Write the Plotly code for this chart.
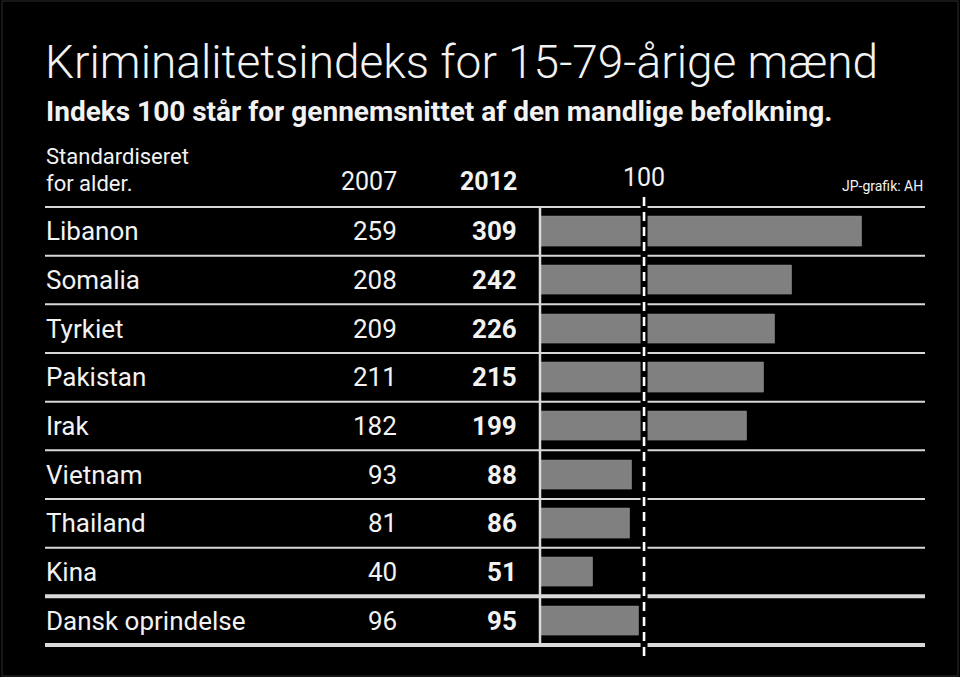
import plotly.graph_objects as go

# ---- data ----
countries = ["Libanon", "Somalia", "Tyrkiet", "Pakistan", "Irak",
             "Vietnam", "Thailand", "Kina", "Dansk oprindelse"]
index_2007 = [259, 208, 209, 211, 182, 93, 81, 40, 96]
index_2012 = [309, 242, 226, 215, 199, 88, 86, 51, 95]
reference_value = 100
year_labels = ["2007", "2012"]
title_text = "Kriminalitetsindeks for 15-79-årige mænd"
subtitle_text = "Indeks 100 står for gennemsnittet af den mandlige befolkning."
note_lines = ["Standardiseret", "for alder."]
credit_text = "JP-grafik: AH"

W, H = 960, 677
FONT = "Roboto, 'Open Sans', sans-serif"
WHITE = "#f2f2f2"
LINE = "#d9d9d9"


def px(x):
    return x / W


def py(y):
    return 1 - y / H


rows = list(range(len(countries)))
n = len(countries)

# geometry of the plotting frame (pixels)
X0_PX, SCALE = 540.0, 1.0405          # pixel of value 0, pixels per unit
X_MIN, X_MAX = -5, 370
TOP_PX, BOT_PX = 207.0, 645.0
ROW_PX = (BOT_PX - TOP_PX) / n
PAD = 0.3                             # rows of padding so edge lines are not clipped

fig = go.Figure()
fig.add_trace(go.Bar(
    x=index_2012, y=rows, orientation="h", width=0.6,
    marker=dict(color="#808080", line=dict(color="#8c8c8c", width=0.6)),
    hoverinfo="skip", showlegend=False,
))

shapes = []
# row separators
for i in range(n + 1):
    yb = i - 0.5
    thick = i >= n - 1
    shapes.append(dict(type="line", xref="paper", yref="y",
                       x0=px(45), x1=px(925), y0=yb, y1=yb,
                       line=dict(color=LINE, width=4 if thick else 2),
                       layer="above"))
# vertical baseline of bars
shapes.append(dict(type="line", xref="x", yref="y", x0=0, x1=0,
                   y0=-0.5, y1=n - 0.5,
                   line=dict(color=LINE, width=2.5), layer="above"))
# reference line: black halo then white dashes
shapes.append(dict(type="line", xref="x", yref="paper",
                   x0=reference_value, x1=reference_value,
                   y0=py(657), y1=py(195),
                   line=dict(color="#000000", width=7), layer="above"))
shapes.append(dict(type="line", xref="x", yref="paper",
                   x0=reference_value, x1=reference_value,
                   y0=py(656), y1=py(196),
                   line=dict(color="#ffffff", width=2.6, dash="9px,6px"),
                   layer="above"))
# faint frame of the graphic
shapes.append(dict(type="rect", xref="paper", yref="paper",
                   x0=px(2), x1=px(958), y0=py(676), y1=py(1),
                   line=dict(color="#2e2e2e", width=1), layer="below"))

ann = []
# title & subtitle
ann.append(dict(text=title_text, x=px(43), y=py(62), xref="paper", yref="paper",
                xanchor="left", yanchor="middle", showarrow=False,
                font=dict(family=FONT, size=46, color=WHITE, weight=300)))
ann.append(dict(text=subtitle_text, x=px(44), y=py(111), xref="paper", yref="paper",
                xanchor="left", yanchor="middle", showarrow=False,
                font=dict(family=FONT, size=28, color=WHITE, weight=700)))
# header
ann.append(dict(text=note_lines[0], x=px(44), y=py(156), xref="paper", yref="paper",
                xanchor="left", yanchor="middle", showarrow=False,
                font=dict(family=FONT, size=22, color=WHITE)))
ann.append(dict(text=note_lines[1], x=px(44), y=py(183), xref="paper", yref="paper",
                xanchor="left", yanchor="middle", showarrow=False,
                font=dict(family=FONT, size=22, color=WHITE)))
ann.append(dict(text=year_labels[0], x=px(399), y=py(181), xref="paper", yref="paper",
                xanchor="right", yanchor="middle", showarrow=False,
                font=dict(family=FONT, size=25, color=WHITE)))
ann.append(dict(text="<b>" + year_labels[1] + "</b>", x=px(519), y=py(181),
                xref="paper", yref="paper",
                xanchor="right", yanchor="middle", showarrow=False,
                font=dict(family=FONT, size=25, color=WHITE)))
ann.append(dict(text=str(reference_value), x=reference_value, y=py(177), xref="x",
                yref="paper", xanchor="center", yanchor="middle", showarrow=False,
                font=dict(family=FONT, size=25, color=WHITE)))
ann.append(dict(text=credit_text, x=px(925), y=py(186), xref="paper", yref="paper",
                xanchor="right", yanchor="middle", showarrow=False,
                font=dict(family=FONT, size=14, color=WHITE)))

# rows
for i, (c, a, b) in enumerate(zip(countries, index_2007, index_2012)):
    ann.append(dict(text=c, x=px(44), y=i, xref="paper", yref="y",
                    xanchor="left", yanchor="middle", showarrow=False,
                    font=dict(family=FONT, size=26, color=WHITE)))
    ann.append(dict(text=str(a), x=px(399), y=i, xref="paper", yref="y",
                    xanchor="right", yanchor="middle", showarrow=False,
                    font=dict(family=FONT, size=26, color=WHITE)))
    ann.append(dict(text="<b>" + str(b) + "</b>", x=px(519), y=i, xref="paper",
                    yref="y", xanchor="right", yanchor="middle", showarrow=False,
                    font=dict(family=FONT, size=26, color=WHITE)))

fig.update_layout(
    width=W, height=H,
    margin=dict(l=0, r=0, t=0, b=0),
    paper_bgcolor="#000000", plot_bgcolor="#000000",
    xaxis=dict(domain=[px(X0_PX + X_MIN * SCALE), px(X0_PX + X_MAX * SCALE)],
               range=[X_MIN, X_MAX], visible=False, fixedrange=True),
    yaxis=dict(domain=[py(BOT_PX + PAD * ROW_PX), py(TOP_PX - PAD * ROW_PX)],
               range=[n - 0.5 + PAD, -0.5 - PAD], visible=False,
               fixedrange=True),
    shapes=shapes, annotations=ann, bargap=0,
)

fig.write_html("out.html", config={"displayModeBar": False},
               post_script="document.body.style.margin='0px';"
                           "document.body.style.background='#000';")
